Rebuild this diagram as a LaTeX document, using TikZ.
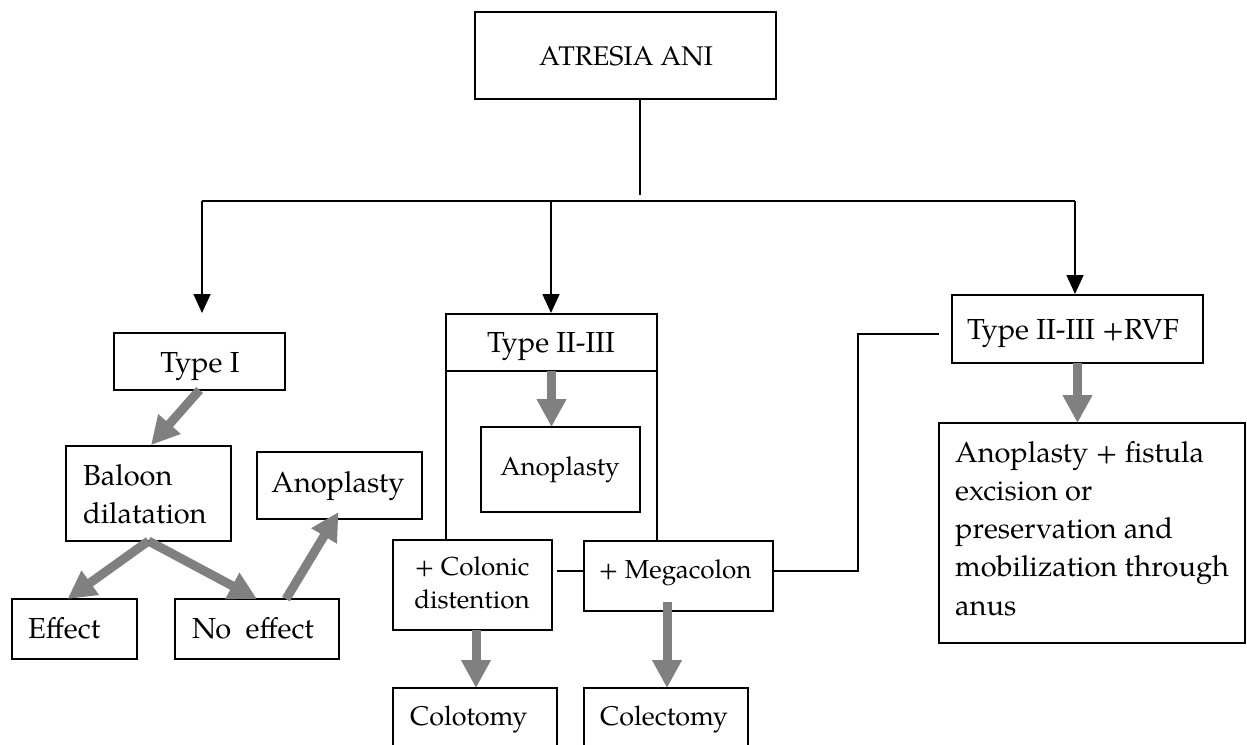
\documentclass[tikz,border=0pt]{standalone}
\usepackage{fontspec}
\setmainfont{TeX Gyre Pagella}
\usetikzlibrary{arrows.meta}
\definecolor{arrgray}{RGB}{128,128,128}
\begin{document}
\begin{tikzpicture}[x=1pt,y=-1pt,
  box/.style={draw, line width=1.8pt, inner sep=0pt, outer sep=0pt, rectangle},
  conn/.style={line width=1.7pt},
  darr/.style={conn, -{Triangle[width=17pt,length=19pt]}},
  garr/.style={draw=arrgray, line width=9pt, -{Triangle[width=28pt,length=28pt]}},
  big/.style={font=\fontsize{29}{38.3}\selectfont, inner sep=0pt},
  med/.style={font=\fontsize{27}{32}\selectfont, inner sep=0pt},
  small/.style={font=\fontsize{26}{33}\selectfont, inner sep=0pt},
]
\useasboundingbox (0,0) rectangle (1247,744);
\clip (0,0) rectangle (1247,744);
\fill[white] (0,0) rectangle (1247,744);

% boxes
\node[box, minimum width=301pt, minimum height=87pt] (atresia) at (625.5,55.5) {};
\node[box, minimum width=171pt, minimum height=57pt] (typeI) at (199.5,361.5) {};
\node[box, minimum width=165pt, minimum height=95pt] (baloon) at (148.5,493.5) {};
\node[box, minimum width=165pt, minimum height=67pt] (anopA) at (339.5,485.5) {};
\node[box, minimum width=125pt, minimum height=60pt] (effect) at (74.5,629) {};
\node[box, minimum width=164pt, minimum height=60pt] (noeff) at (257,629) {};
\node[box, minimum width=211pt, minimum height=57pt] (typeII) at (551.5,342.5) {};
\node[box, minimum width=159pt, minimum height=85pt] (anopB) at (560.5,469.5) {};
\node[box, minimum width=159pt, minimum height=90pt] (colonic) at (472.5,585) {};
\node[box, minimum width=189pt, minimum height=70pt] (mega) at (678.5,576) {};
\node[box, minimum width=164pt, minimum height=82pt] (colot) at (475,729) {};
\node[box, minimum width=164pt, minimum height=82pt] (colect) at (666,729) {};
\node[box, minimum width=251pt, minimum height=68pt] (rvf) at (1077.5,329) {};
\node[box, minimum width=306pt, minimum height=220pt] (fist) at (1092,533) {};

% texts
\node[med, anchor=base] (tatresia) at (626,65) {ATRESIA ANI};
\node[big, anchor=base] (ttypeI) at (200,372) {Type I};
\node[big, anchor=base west] (tbaloon) at (83,485) {\begin{tabular}[t]{@{}l@{}}Baloon\\dilatation\end{tabular}};
\node[big, anchor=base] (tanopA) at (338,492) {Anoplasty};
\node[big, anchor=base west] (teffect) at (28,638) {Effect};
\node[big, anchor=base west] (tnoeff) at (192,638) {No\ \ effect};
\node[big, anchor=base] (ttypeII) at (551,352) {Type II-III};
\node[small, anchor=base] (tanopB) at (560,475) {Anoplasty};
\node[small, anchor=base] (tcolonic) at (472,575) {\begin{tabular}[t]{@{}c@{}}+ Colonic\\distention\end{tabular}};
\node[small, anchor=base] (tmega) at (675,578) {+ Megacolon};
\node[med, anchor=base west] (tcolot) at (410,725) {Colotomy};
\node[med, anchor=base west] (tcolect) at (600,725) {Colectomy};
\node[big, anchor=base] (trvf) at (1073,339) {Type II-III +RVF};
\node[big, anchor=base west] (tfist) at (955,462) {\begin{tabular}[t]{@{}l@{}}Anoplasty + fistula\\excision or\\preservation and\\mobilization through\\anus\end{tabular}};

% black connectors
\coordinate (topstub) at (640,99);
\coordinate (stubend) at (640,195);
\coordinate (hl) at (202,201);
\coordinate (hm) at (551,201);
\coordinate (hr) at (1075,201);
\coordinate (tipL) at (202,313);
\coordinate (tipM) at (551,313);
\coordinate (tipR) at (1075,294);
\draw[conn] (topstub) -- (stubend);
\draw[line width=2.2pt] (hl) -- (hr);
\draw[darr] (hl) -- (tipL);
\draw[darr] (hm) -- (tipM);
\draw[darr] (hr) -- (tipR);
\draw[conn] (typeII.south west) -- (colonic.north west -| typeII.south west);
\draw[conn] (typeII.south east) -- (mega.north -| typeII.south east);
\coordinate (cmL) at (557,571);
\draw[conn] (cmL) -- (mega.west |- cmL);
\coordinate (rvfline) at (939,334);
\draw[conn] (mega.east |- cmL) -- (858,571) -- (858,334) -- (rvfline);

% gray arrows
\coordinate (a1tip) at (151,445);
\coordinate (megaStart) at (667,602);
\draw[garr] (typeI.south) -- (a1tip);
\draw[garr] (baloon.south) -- ([xshift=-7pt]effect.north);
\draw[garr] (baloon.south) -- (noeff.north);
\draw[garr] ([xshift=29pt]noeff.north) -- ([xshift=-1pt,yshift=7pt]anopA.south);
\draw[garr] (typeII.south) -- (typeII.south |- anopB.north);
\draw[garr] ([xshift=3.5pt]colonic.south) -- ([xshift=3.5pt]colonic.south |- colot.north);
\draw[garr] (megaStart) -- (megaStart |- colect.north);
\draw[garr] (rvf.south) -- (rvf.south |- fist.north);
\end{tikzpicture}
\end{document}
